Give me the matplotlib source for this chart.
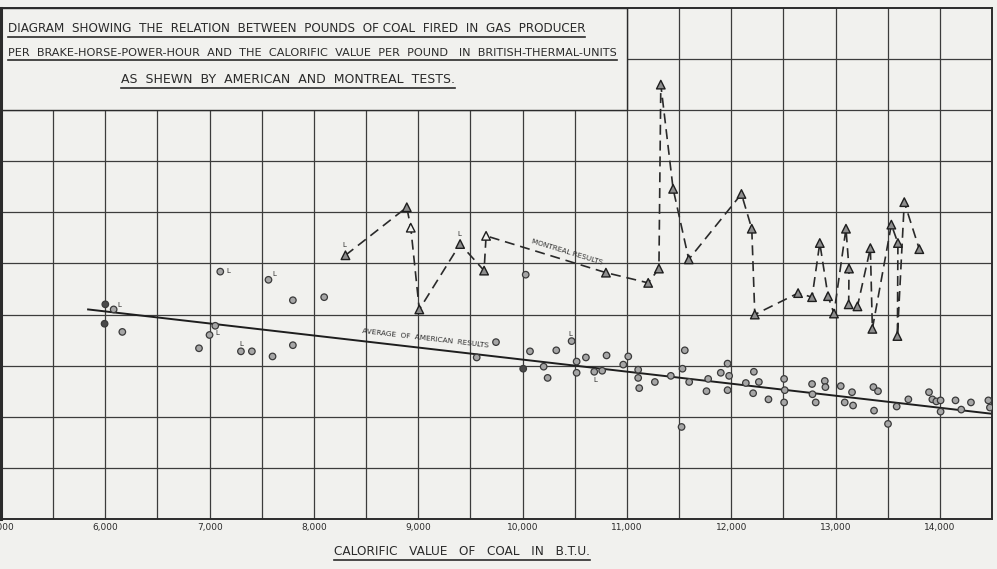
import numpy as np
import matplotlib
matplotlib.use('Agg')
import matplotlib.pyplot as plt
from matplotlib.patches import Rectangle
from matplotlib.lines import Line2D

bg = '#f1f1ee'
ink = '#2b2b2b'

# American tests: calorific value (B.T.U. per lb) and lb coal per b.h.p.-hour
amer_btu = [6000, 6080, 5993, 6163, 7054, 6999, 6898, 7300, 7405, 7603,
            7798, 7798, 8098, 7102, 7564, 10030, 9560, 9745, 10006, 10071,
            10202, 10240, 10323, 10470, 10518, 10518, 10607, 10687, 10763, 10805,
            10965, 11013, 11108, 11108, 11118, 11268, 11555, 11533, 11421, 11597,
            11524, 11763, 11779, 11900, 11965, 11980, 11965, 12140, 12217, 12265,
            12210, 12357, 12507, 12513, 12507, 12775, 12779, 12810, 12897, 12903,
            13050, 13158, 13088, 13168, 13363, 13407, 13369, 13503, 13586, 13698,
            13896, 13928, 13966, 14007, 14007, 14150, 14205, 14298, 14465, 14480]
amer_lb = [2.10, 2.05, 1.91, 1.83, 1.89, 1.80, 1.67, 1.64, 1.64, 1.59,
           1.70, 2.14, 2.17, 2.42, 2.34, 2.39, 1.58, 1.73, 1.47, 1.64,
           1.49, 1.38, 1.65, 1.74, 1.54, 1.43, 1.58, 1.44, 1.45, 1.60,
           1.51, 1.59, 1.46, 1.38, 1.28, 1.34, 1.65, 1.47, 1.40, 1.34,
           0.90, 1.25, 1.37, 1.43, 1.52, 1.40, 1.26, 1.33, 1.44, 1.34,
           1.23, 1.17, 1.37, 1.26, 1.14, 1.32, 1.22, 1.14, 1.35, 1.29,
           1.30, 1.24, 1.14, 1.11, 1.29, 1.25, 1.06, 0.93, 1.10, 1.17,
           1.24, 1.17, 1.15, 1.16, 1.05, 1.16, 1.07, 1.14, 1.16, 1.09]
amer_lignite = [1, 5, 7, 13, 14, 23, 27]
amer_dark = [0, 2, 18]

# Montreal tests, in the order the dashed line joins them
mont_btu = [8302, 8890, 8928, 9010, 9401, 9631, 9650, 10799, 11204, 11307,
            11325, 11443, 11593, 12098, 12197, 12226, 12641, 12775, 12849, 12928,
            12985, 13100, 13129, 13126, 13210, 13334, 13353, 13535, 13598, 13593,
            13659, 13803]
mont_lb = [2.58, 3.05, 2.85, 2.05, 2.69, 2.43, 2.77, 2.41, 2.31, 2.45,
           4.25, 3.23, 2.54, 3.18, 2.84, 2.00, 2.21, 2.17, 2.70, 2.18,
           2.01, 2.84, 2.45, 2.10, 2.08, 2.65, 1.86, 2.88, 2.70, 1.79,
           3.10, 2.64]
mont_lignite = [0, 4]
mont_open = [2, 6]

# average of American results
avg_btu = [5835, 14490]
avg_lb = [2.05, 1.03]

xticks = list(range(5000, 14001, 1000))
xtick_labels = ['5,000', '6,000', '7,000', '8,000', '9,000', '10,000',
                '11,000', '12,000', '13,000', '14,000']

title_lines = ['DIAGRAM  SHOWING  THE  RELATION  BETWEEN  POUNDS  OF COAL  FIRED  IN  GAS  PRODUCER',
               'PER  BRAKE-HORSE-POWER-HOUR  AND  THE  CALORIFIC  VALUE  PER  POUND   IN  BRITISH-THERMAL-UNITS',
               'AS  SHEWN  BY  AMERICAN  AND  MONTREAL  TESTS.']

fig = plt.figure(figsize=(9.97, 5.69), dpi=100, facecolor=bg)
ax = fig.add_axes([0.001, 0.088, 0.994, 0.898], facecolor=bg)
ax.set_xlim(5000, 14500)
ax.set_ylim(0, 5)

ax.set_xticks(xticks)
ax.set_xticklabels(xtick_labels, fontsize=6.5, color=ink)
ax.set_xticks(np.arange(5500, 14500, 1000), minor=True)
ax.set_yticks(np.arange(0.5, 5, 0.5))
ax.set_yticklabels([])
ax.tick_params(which='both', length=0, pad=3)
ax.set_axisbelow(True)
ax.grid(which='both', color='#3c3c3c', lw=0.9)
for s in ax.spines.values():
    s.set_color(ink)
    s.set_linewidth(1.4)
ax.spines['left'].set_linewidth(2.2)

# title box covers the top two rows on the left
ax.add_patch(Rectangle((5000, 4.0), 6000, 1.0, facecolor=bg, edgecolor=ink,
                       lw=1.0, zorder=1))

# average line
ax.plot(avg_btu, avg_lb, color='#1e1e1e', lw=1.4, zorder=2)

# montreal dashed line
ax.plot(mont_btu, mont_lb, color='#2a2a2a', lw=1.2, ls=(0, (6, 3.5)), zorder=2)
mfc = ['#f1f1ee' if i in mont_open else '#8e8e8e' for i in range(len(mont_btu))]
ax.scatter(mont_btu, mont_lb, marker='^', s=38, c=mfc, edgecolors='#1e1e1e',
           linewidths=1.0, zorder=3)

# american points
cfc = ['#4a4a4a' if i in amer_dark else '#a6a6a6' for i in range(len(amer_btu))]
ax.scatter(amer_btu, amer_lb, marker='o', s=22, c=cfc, edgecolors='#3a3a3a',
           linewidths=0.9, zorder=3)

# "L" marks
for i, off in zip(amer_lignite, [(4, 4), (6, 2), (0, 7), (6, 1), (4, 6), (-1, 7), (1, -8)]):
    ax.annotate('L', (amer_btu[i], amer_lb[i]), xytext=off, textcoords='offset pixels',
                fontsize=5, color=ink, ha='left' if off[0] > 2 else 'center', va='center')
for i in mont_lignite:
    ax.annotate('L', (mont_btu[i], mont_lb[i]), xytext=(-1, 10), textcoords='offset pixels',
                fontsize=5, color=ink, ha='center', va='center')


def disp_angle(x0, y0, x1, y1):
    (a, b), (c, d) = ax.transData.transform([(x0, y0), (x1, y1)])
    return np.degrees(np.arctan2(d - b, c - a))


ang = disp_angle(avg_btu[0], avg_lb[0], avg_btu[1], avg_lb[1])
ax.text(9065, 1.77, 'AVERAGE  OF  AMERICAN  RESULTS', fontsize=5.2, color=ink,
        rotation=ang, rotation_mode='anchor', ha='center', va='center', zorder=4)
ang = disp_angle(mont_btu[6], mont_lb[6], mont_btu[7], mont_lb[7])
ax.text(10430, 2.61, 'MONTREAL RESULTS', fontsize=5.2, color=ink,
        rotation=ang, rotation_mode='anchor', ha='center', va='center', zorder=4)

fig.canvas.draw()
inv = fig.transFigure.inverted()


def fit_width(t, target):
    w = t.get_window_extent().width
    t.set_fontsize(t.get_fontsize() * target / w)


def underline(t, gap=3, lw=1.2):
    bb = t.get_window_extent()
    (x0, y0), (x1, _) = inv.transform([(bb.x0, bb.y0 - gap), (bb.x1, bb.y0 - gap)])
    fig.add_artist(Line2D([x0, x1], [y0, y0], color=ink, lw=lw))


# title lines: (axes x, axes y baseline, ha, target width px)
spec = [(0.007, 0.952, 'left', 584), (0.007, 0.906, 'left', 614), (0.290, 0.853, 'center', 334)]
titles = []
for line, (tx, ty, ha, w) in zip(title_lines, spec):
    t = ax.text(tx, ty, line, transform=ax.transAxes, fontsize=7, color=ink,
                ha=ha, va='baseline', zorder=5)
    titles.append((t, w))
xl = ax.text(0.465, -0.071, 'CALORIFIC   VALUE   OF   COAL   IN   B.T.U.', transform=ax.transAxes,
             fontsize=6, color=ink, ha='center', va='baseline', clip_on=False)
titles.append((xl, 257))

fig.canvas.draw()
for t, w in titles:
    fit_width(t, w)
fig.canvas.draw()
for t, w in titles:
    underline(t, gap=2)

fig.savefig('out.png', dpi=100, facecolor=bg)
